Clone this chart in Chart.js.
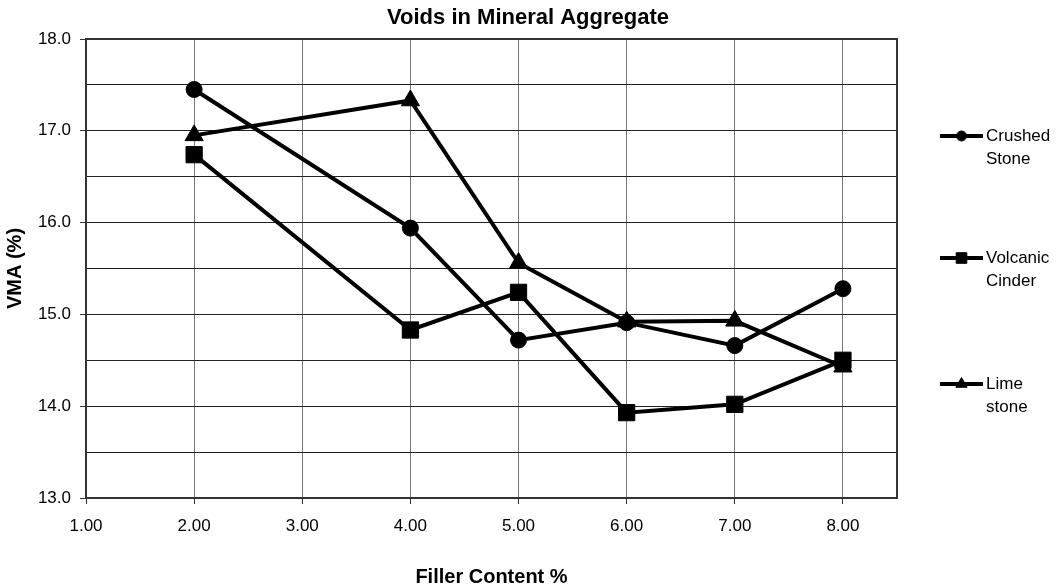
<!DOCTYPE html>
<html>
<head>
<meta charset="utf-8">
<script src="https://cdn.jsdelivr.net/npm/chart.js@4.4.1/dist/chart.umd.min.js"></script>
<style>
  html, body { margin: 0; padding: 0; background: #ffffff; }
  #wrap { width: 1056px; height: 585px; position: relative; }
</style>
</head>
<body>
<div id="wrap"><canvas id="c" width="1056" height="585"></canvas></div>
<script>
// ---- Data ----
const fillerContent = [2, 4, 5, 6, 7, 8];
const crushedStone   = [17.45, 15.94, 14.72, 14.91, 14.66, 15.28];
const volcanicCinder = [16.74, 14.83, 15.24, 13.93, 14.02, 14.50];
const limeStone      = [16.95, 17.33, 15.56, 14.92, 14.93, 14.43];

const seriesNames = [["Crushed", "Stone"], ["Volcanic", "Cinder"], ["Lime", "stone"]];
const chartTitle = "Voids in Mineral Aggregate";
const xTitle = "Filler Content %";
const yTitle = "VMA (%)";

const FONT = "'Liberation Sans', Arial, Helvetica, sans-serif";

function toPoints(xs, ys) { return xs.map((x, i) => ({ x: x, y: ys[i] })); }

function makeDataset(label, values, style, radius) {
  return {
    label: label,
    data: toPoints(fillerContent, values),
    borderColor: '#000',
    backgroundColor: '#000',
    borderWidth: 4,
    tension: 0,
    pointStyle: style,
    pointRadius: radius,
    pointHoverRadius: radius,
    pointBackgroundColor: '#000',
    pointBorderColor: '#000',
    pointBorderWidth: 1,
    legendRadius: style === 'rect' ? 7.5 : (style === 'triangle' ? 6.5 : 5)
  };
}

const frameAndLegend = {
  id: 'frameAndLegend',
  afterDatasetsDraw(chart) {
    const ctx = chart.ctx;
    const a = chart.chartArea;
    ctx.save();
    ctx.strokeStyle = '#333';
    ctx.lineWidth = 2;
    ctx.strokeRect(a.left, a.top, a.right - a.left, a.bottom - a.top);
    ctx.restore();
  },
  afterDraw(chart) {
    const ctx = chart.ctx;
    // chart title, centred on the whole canvas
    ctx.save();
    ctx.fillStyle = '#000';
    ctx.font = 'bold 22px ' + FONT;
    ctx.textAlign = 'center';
    ctx.textBaseline = 'middle';
    ctx.fillText(chartTitle, chart.width / 2, 18);
    ctx.restore();

    const legendY = [136, 258, 384];
    const lineX0 = 940, lineX1 = 983, textX = 986, lineGap = 23;
    chart.data.datasets.forEach((ds, i) => {
      const y = legendY[i];
      ctx.save();
      ctx.strokeStyle = '#000';
      ctx.lineWidth = 4;
      ctx.beginPath();
      ctx.moveTo(lineX0, y);
      ctx.lineTo(lineX1, y);
      ctx.stroke();
      ctx.fillStyle = '#000';
      ctx.strokeStyle = '#000';
      ctx.lineWidth = 1;
      Chart.helpers.drawPoint(ctx, { pointStyle: ds.pointStyle, radius: ds.legendRadius, rotation: 0, borderWidth: 1 }, (lineX0 + lineX1) / 2, y);
      ctx.fillStyle = '#000';
      ctx.font = '17px ' + FONT;
      ctx.textBaseline = 'middle';
      ctx.textAlign = 'left';
      seriesNames[i].forEach((t, k) => ctx.fillText(t, textX, y + k * lineGap));
      ctx.restore();
    });
  }
};

new Chart(document.getElementById('c'), {
  type: 'line',
  data: {
    datasets: [
      makeDataset(seriesNames[0].join(' '), crushedStone, 'circle', 8),
      makeDataset(seriesNames[1].join(' '), volcanicCinder, 'rect', 11.5),
      makeDataset(seriesNames[2].join(' '), limeStone, 'triangle', 10.5)
    ]
  },
  options: {
    responsive: false,
    animation: false,
    devicePixelRatio: 1,
    layout: { padding: { left: 0, right: 159, top: 39, bottom: 0 } },
    plugins: {
      legend: { display: false },
      tooltip: { enabled: false },
      title: { display: false }
    },
    scales: {
      x: {
        type: 'linear',
        min: 1,
        max: 8.5,
        afterFit(scale) { scale.height = 87; },
        ticks: {
          stepSize: 1,
          includeBounds: false,
          color: '#000',
          padding: 12,
          maxRotation: 0,
          font: { family: FONT, size: 17 },
          callback: v => Number(v).toFixed(2)
        },
        grid: {
          color: '#777',
          lineWidth: 1,
          drawTicks: true,
          tickLength: 6,
          tickColor: '#333'
        },
        border: { display: true, color: '#333', width: 2 },
        title: {
          display: true,
          text: xTitle,
          color: '#000',
          font: { family: FONT, size: 20, weight: 'bold', lineHeight: 0.8 },
          padding: { top: 0, bottom: 0 }
        }
      },
      y: {
        type: 'linear',
        min: 13,
        max: 18,
        afterFit(scale) { scale.width = 86; },
        ticks: {
          stepSize: 0.5,
          color: '#000',
          padding: 9,
          font: { family: FONT, size: 17 },
          callback: v => (Math.abs(v - Math.round(v)) < 1e-9 ? Number(v).toFixed(1) : '')
        },
        grid: {
          color: '#222',
          lineWidth: 1,
          drawTicks: true,
          tickLength: 6,
          tickColor: ctx => (ctx.tick && Math.abs(ctx.tick.value - Math.round(ctx.tick.value)) < 1e-9 ? '#333' : 'rgba(0,0,0,0)')
        },
        border: { display: true, color: '#333', width: 2 },
        title: {
          display: true,
          text: yTitle,
          color: '#000',
          font: { family: FONT, size: 20, weight: 'bold', lineHeight: 0.8 },
          padding: { top: 7, bottom: 0 }
        }
      }
    }
  },
  plugins: [frameAndLegend]
});
</script>
</body>
</html>
